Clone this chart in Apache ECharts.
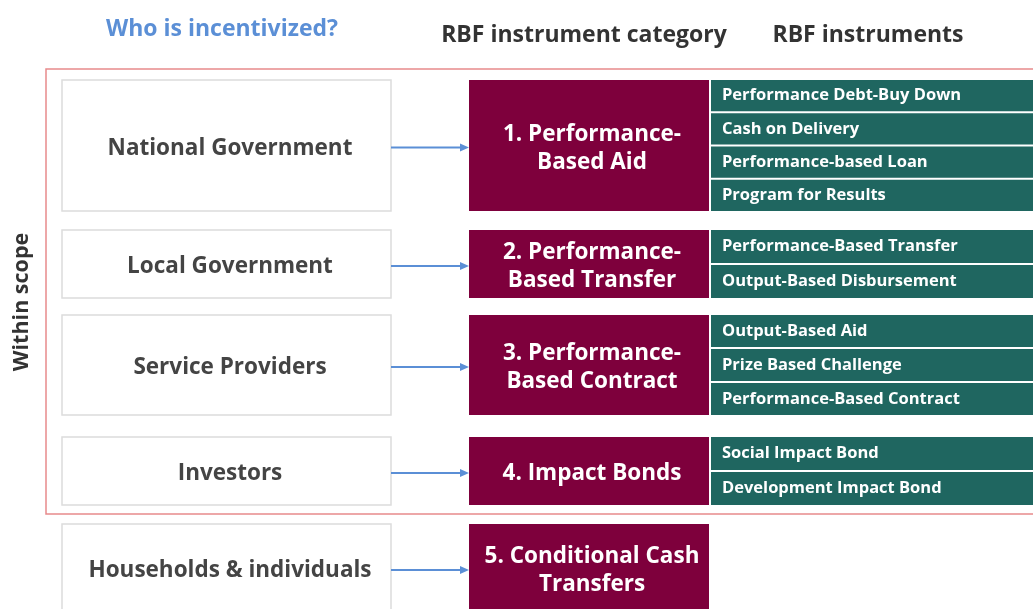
<!DOCTYPE html>
<html>
<head>
<meta charset="utf-8">
<script src="https://cdn.jsdelivr.net/npm/echarts@6/dist/echarts.min.js"></script>
<style>
html, body { margin: 0; padding: 0; background: #fff; }
#main { width: 1033px; height: 609px; }
</style>
</head>
<body>
<div id="main"></div>
<script>
// 表头
const headers = ['Who is incentivized?', 'RBF instrument category', 'RBF instruments'];
const scopeLabel = 'Within scope';
// 谁被激励
const actors = ['National Government', 'Local Government', 'Service Providers', 'Investors', 'Households & individuals'];
// RBF 工具类别
const categories = [
  '1. Performance-\nBased Aid',
  '2. Performance-\nBased Transfer',
  '3. Performance-\nBased Contract',
  '4. Impact Bonds',
  '5. Conditional Cash\nTransfers'
];
// RBF 工具
const instruments = [
  ['Performance Debt-Buy Down', 'Cash on Delivery', 'Performance-based Loan', 'Program for Results'],
  ['Performance-Based Transfer', 'Output-Based Disbursement'],
  ['Output-Based Aid', 'Prize Based Challenge', 'Performance-Based Contract'],
  ['Social Impact Bond', 'Development Impact Bond'],
  []
];

// layout
const rowTop = [80, 230, 315, 437, 524];
const rowBottom = [211, 298, 415, 505, 640];
const FONT = '"Open Sans"';

const chart = echarts.init(document.getElementById('main'));

const elements = [];
// 表头
const headerX = [222, 584, 868];
const headerColor = ['#5b8fd6', '#333333', '#333333'];
headers.forEach((h, i) => {
  elements.push({
    type: 'text', x: headerX[i], y: i === 0 ? 29 : 35,
    style: { text: h, fill: headerColor[i], font: 'bold 23px ' + FONT, align: 'center', verticalAlign: 'middle' }
  });
});
// 范围框
elements.push({
  type: 'rect', shape: { x: 46, y: 69, width: 1100, height: 514 - 69 },
  style: { fill: 'none', stroke: '#e88a8c', lineWidth: 1.5 }, z: 1
});
elements.push({
  type: 'text', x: 22, y: 302, rotation: Math.PI / 2,
  style: { text: scopeLabel, fill: '#333333', font: 'bold 21.5px ' + FONT, align: 'center', verticalAlign: 'middle' }
});

actors.forEach((a, i) => {
  const top = rowTop[i], bot = rowBottom[i];
  const cy = i === 4 ? 569 : (top + bot) / 2 + 1;
  // 左侧框
  elements.push({
    type: 'rect', shape: { x: 62, y: top, width: 329, height: bot - top },
    style: { fill: '#fff', stroke: '#dcdcdc', lineWidth: 1.5 }, z: 2
  });
  elements.push({
    type: 'text', x: 230, y: cy + 2,
    style: { text: a, fill: '#444444', font: 'bold 22.5px ' + FONT, align: 'center', verticalAlign: 'middle' }, z: 3
  });
  // 箭头
  elements.push({
    type: 'line', shape: { x1: 391, y1: cy + 1, x2: 462, y2: cy + 1 },
    style: { stroke: '#5b8fd6', lineWidth: 2 }, z: 3
  });
  elements.push({
    type: 'polygon', shape: { points: [[460, cy - 3], [469, cy + 1], [460, cy + 5]] },
    style: { fill: '#5b8fd6' }, z: 3
  });
  // 类别框
  elements.push({
    type: 'rect', shape: { x: 469, y: top, width: 240, height: bot - top },
    style: { fill: '#7e003c' }, z: 2
  });
  elements.push({
    type: 'text', x: 592, y: cy + 2,
    style: { text: categories[i], fill: '#ffffff', font: 'bold 22.5px ' + FONT, align: 'center', verticalAlign: 'middle', lineHeight: 28 }, z: 3
  });
  // 工具
  const list = instruments[i];
  const n = list.length;
  const gap = 2;
  const h = (bot - top - gap * (n - 1)) / n;
  list.forEach((name, j) => {
    const y = top + j * (h + gap);
    elements.push({
      type: 'rect', shape: { x: 711, y: y, width: 330, height: h },
      style: { fill: '#1f6660' }, z: 2
    });
    elements.push({
      type: 'text', x: 722, y: y + h / 2,
      style: { text: name, fill: '#ffffff', font: 'bold 16.5px ' + FONT, align: 'left', verticalAlign: 'middle' }, z: 3
    });
  });
});

chart.setOption({
  backgroundColor: '#ffffff',
  animation: false,
  graphic: { elements: elements }
});
</script>
</body>
</html>
